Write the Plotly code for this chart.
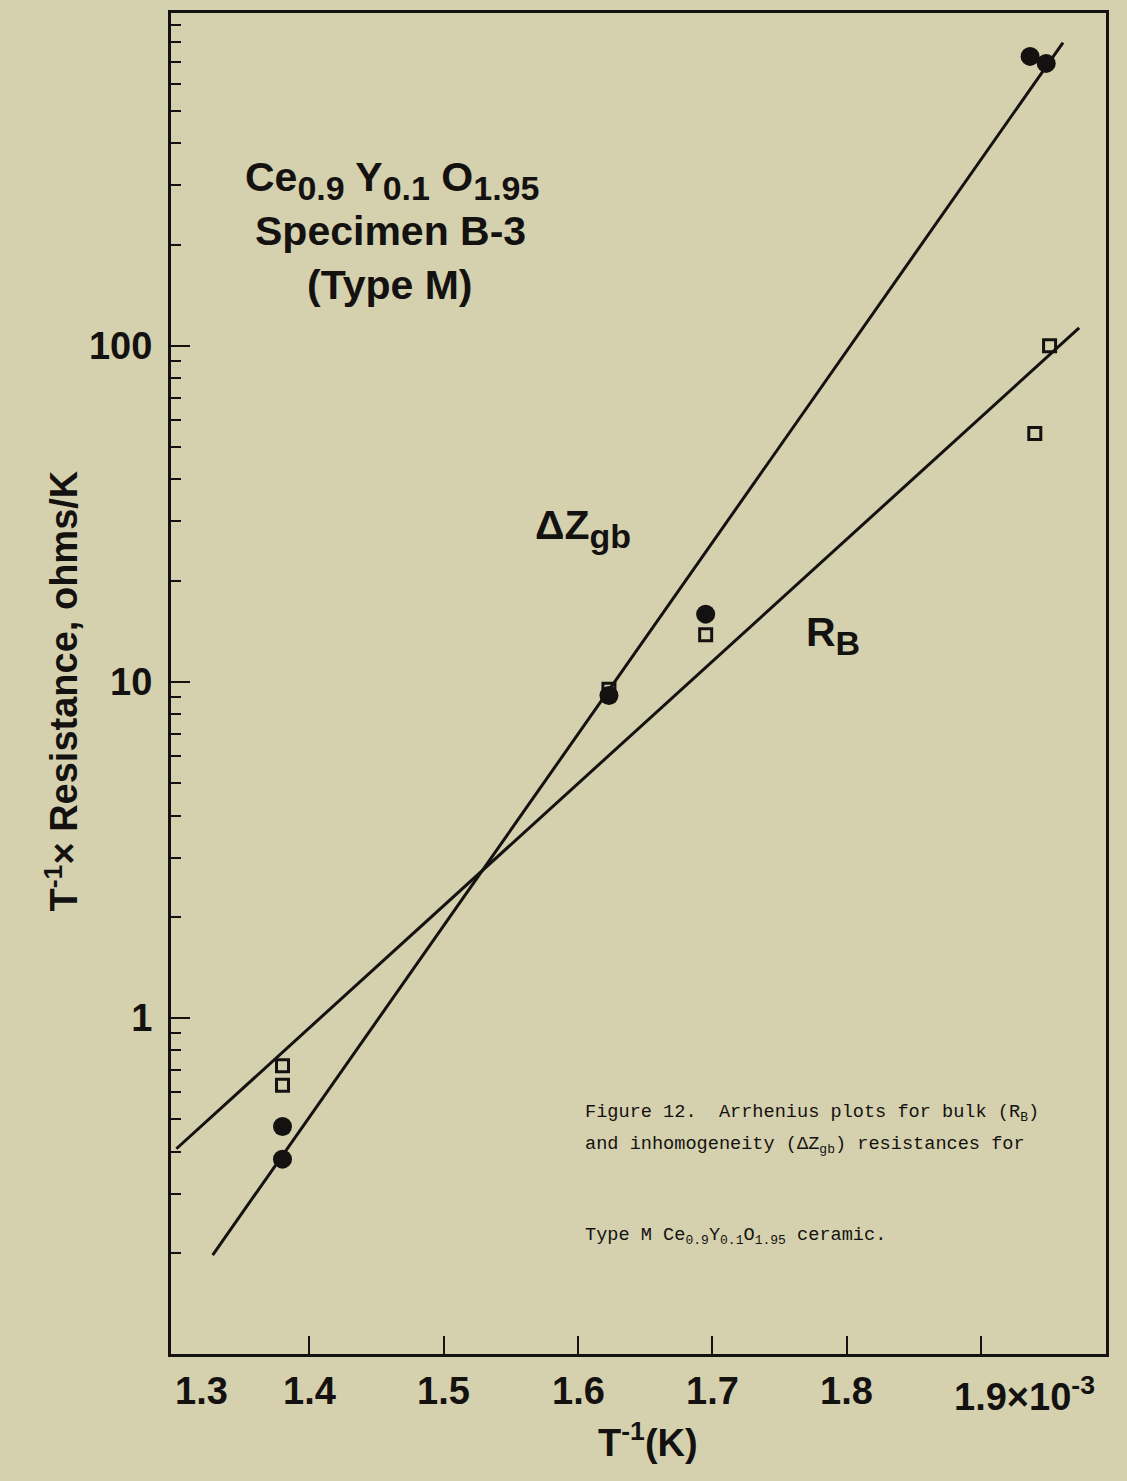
import plotly.graph_objects as go

# Arrhenius data, x in units of 10^-3 K^-1
x_rb = [1.38, 1.38, 1.623, 1.695, 1.940, 1.951]
rb = [0.72, 0.63, 9.5, 13.8, 54.8, 100]
x_gb = [1.38, 1.38, 1.623, 1.695, 1.9365, 1.9485]
gb = [0.475, 0.38, 9.1, 15.9, 726, 692]

# straight-line fits (end points)
rb_fit_x = [1.301, 1.973]
rb_fit_y = [0.408, 113]
gb_fit_x = [1.328, 1.961]
gb_fit_y = [0.197, 798]

x_ticks = [1.3, 1.4, 1.5, 1.6, 1.7, 1.8, 1.9]
x_tick_text = ["1.3", "1.4", "1.5", "1.6", "1.7", "1.8", "1.9×10<sup>-3</sup>"]
y_ticks = [1, 10, 100]
y_tick_text = ["1", "10", "100"]
y_minor = [m * 10 ** e for e in (-1, 0, 1, 2) for m in range(2, 10)]

W, H = 1127, 1481
L, R, T, B = 171, 1106, 10, 1354
INK = "#141210"
PAPER = "rgb(213,209,174)"
SANS = "Liberation Sans, Arial, Helvetica, sans-serif"
MONO = "Liberation Mono, Courier New, monospace"


def px(x):
    return (x - L) / (R - L)


def py(y):
    return (B - y) / (B - T)


def sub(s, size=34):
    return f"<sub><span style='font-size:{size}px'>{s}</span></sub>"


fig = go.Figure()
fig.add_trace(go.Scatter(x=rb_fit_x, y=rb_fit_y, mode="lines",
                         line=dict(color=INK, width=3), showlegend=False))
fig.add_trace(go.Scatter(x=gb_fit_x, y=gb_fit_y, mode="lines",
                         line=dict(color=INK, width=3), showlegend=False))
fig.add_trace(go.Scatter(x=x_rb, y=rb, mode="markers",
                         marker=dict(symbol="square-open", size=12, color=INK,
                                     line=dict(width=3, color=INK)),
                         showlegend=False))
fig.add_trace(go.Scatter(x=x_gb, y=gb, mode="markers",
                         marker=dict(symbol="circle", size=19, color=INK),
                         showlegend=False))

fig.update_xaxes(range=[1.297, 1.993], showgrid=False, zeroline=False,
                 showline=True, linecolor=INK, linewidth=3, mirror=True,
                 ticks="inside", ticklen=18, tickwidth=2, tickcolor=INK,
                 tickvals=x_ticks[1:], showticklabels=False)
fig.update_yaxes(type="log", range=[-1.0, 2.99], showgrid=False, zeroline=False,
                 showline=True, linecolor=INK, linewidth=3, mirror=True,
                 ticks="inside", ticklen=19, tickwidth=2, tickcolor=INK,
                 tickvals=y_ticks, ticktext=y_tick_text,
                 tickfont=dict(family=SANS, size=38, color=INK, weight="bold"),
                 ticklabelstandoff=8,
                 minor=dict(tickvals=y_minor, ticks="inside", ticklen=10,
                            tickwidth=2, tickcolor=INK))

tickfont = dict(family=SANS, size=38, color=INK, weight="bold")
ann = []
# x tick labels
for v, t in zip(x_ticks, x_tick_text):
    if v == 1.9:
        ann.append(dict(x=v, y=0, xref="x", yref="paper", text=t, showarrow=False,
                        xanchor="left", yanchor="top", xshift=-29, yshift=-14,
                        font=tickfont))
    else:
        ann.append(dict(x=v, y=0, xref="x", yref="paper", text=t, showarrow=False,
                        xanchor="center", yanchor="top", xshift=26 if v == 1.3 else 0,
                        yshift=-14, font=tickfont))

big = dict(family=SANS, size=41, color=INK, weight="bold")
axis_title = dict(family=SANS, size=38, color=INK, weight="bold")
labels = [
    (62, 690, "T<sup>-1</sup>× Resistance, ohms/K", -90, axis_title),
    (648, 1440, "T<sup>-1</sup>(K)", 0, axis_title),
    (392, 178, "Ce" + sub("0.9") + " Y" + sub("0.1") + " O" + sub("1.95"), 0, big),
    (390, 228, "Specimen B-3", 0, big),
    (390, 283, "(Type M)", 0, big),
    (583, 527, "ΔZ" + sub("gb"), 0, big),
    (833, 634, "R" + sub("B"), 0, big),
]
for xp, yp, text, ang, f in labels:
    ann.append(dict(x=px(xp), y=py(yp), xref="paper", yref="paper", text=text,
                    textangle=ang, showarrow=False, xanchor="center",
                    yanchor="middle", font=f))

cap = dict(family=MONO, size=18.6, color=INK)
caption = [
    ("Figure 12.\u00a0\u00a0Arrhenius plots for bulk (R<sub>B</sub>)", 1099),
    ("and inhomogeneity (ΔZ<sub>gb</sub>) resistances for", 1132),
    ("Type M Ce<sub>0.9</sub>Y<sub>0.1</sub>O<sub>1.95</sub> ceramic.", 1223),
]
for text, top in caption:
    ann.append(dict(x=px(583), y=py(top), xref="paper", yref="paper", text=text,
                    showarrow=False, xanchor="left", yanchor="top", align="left",
                    font=cap))

fig.update_layout(width=W, height=H, margin=dict(l=L, r=W - R, t=T, b=H - B),
                  paper_bgcolor=PAPER, plot_bgcolor=PAPER, annotations=ann,
                  showlegend=False)

fig.write_html("out.html")
